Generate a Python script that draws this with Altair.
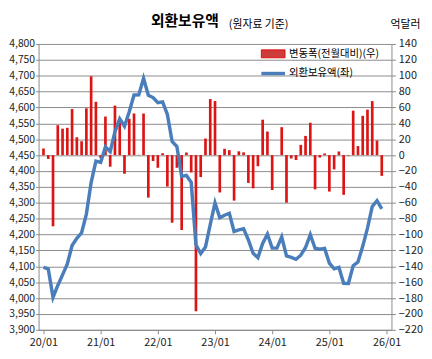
import altair as alt
import pandas as pd

# ---- data (억달러) ----
month_index = list(range(72))  # 2020/01 .. 2025/12
reserves = [
    4096.5, 4091.7, 4002.1, 4039.8, 4073.1, 4107.5, 4165.5, 4188.0, 4205.5, 4264.5, 4363.8, 4431.0,
    4427.3, 4475.9, 4461.3, 4523.7, 4564.5, 4541.0, 4586.8, 4639.3, 4639.7, 4692.1, 4638.6, 4631.2,
    4615.3, 4617.7, 4578.1, 4493.0, 4477.1, 4382.8, 4386.1, 4364.3, 4167.7, 4140.1, 4161.0, 4231.6,
    4299.7, 4252.7, 4260.7, 4267.0, 4209.7, 4214.5, 4218.0, 4183.0, 4141.2, 4127.2, 4171.8, 4201.5,
    4157.6, 4157.3, 4192.5, 4132.6, 4128.3, 4122.1, 4135.0, 4159.2, 4200.0, 4156.9, 4153.9, 4156.0,
    4110.1, 4092.1, 4096.7, 4046.7, 4046.0, 4102.0, 4113.4, 4162.9, 4220.2, 4288.2, 4306.6, 4280.5,
]
changes = [
    8.3, -4.8, -89.6, 37.7, 33.3, 34.4, 58.0, 22.5, 17.5, 59.0, 99.3, 67.2,
    -3.7, 48.6, -14.6, 62.4, 40.8, -23.5, 45.8, 52.5, 0.4, 52.4, -53.5, -7.4,
    -15.9, 2.4, -39.6, -85.1, -15.9, -94.3, 3.3, -21.8, -196.6, -27.6, 20.9, 70.6,
    68.1, -47.0, 8.0, 6.3, -57.3, 4.8, 3.5, -35.0, -41.8, -14.0, 44.6, 29.7,
    -43.9, -0.3, 35.2, -59.9, -4.3, -6.2, 12.9, 24.2, 40.8, -43.1, -3.0, 2.1,
    -45.9, -18.0, 4.6, -50.0, -0.7, 56.0, 11.4, 49.5, 57.3, 68.0, 18.4, -26.1,
]
x_tick_labels = ["20/01", "21/01", "22/01", "23/01", "24/01", "25/01", "26/01"]
x_tick_pos = [0, 12, 24, 36, 48, 60, 72]
left_ticks = list(range(3900, 4801, 50))
right_ticks = list(range(-220, 141, 20))
title_main = "외환보유액"
title_sub = "(원자료 기준)"
unit_label = "억달러"
legend_labels = ["변동폭(전월대비)(우)", "외환보유액(좌)"]

FONT = "Noto Sans CJK KR"
RED = "#dc1414"
BLUE = "#4a7ebb"
GRID = "#8a8a8a"

df = pd.DataFrame({"i": month_index, "res": reserves, "chg": changes})

label_expr = "[" + ",".join(f"'{t}'" for t in x_tick_labels) + "][round(datum.value/12)]"

x_enc = alt.X(
    "i:Q",
    scale=alt.Scale(domain=[0, 72], nice=False, zero=False),
    axis=alt.Axis(values=x_tick_pos, labelExpr=label_expr, title=None, grid=False,
                  tickSize=4, tickColor=GRID, domainColor=GRID, labelPadding=3,
                  labelFontSize=11, labelFont=FONT, labelColor="#222222"),
)

bars = alt.Chart(df).mark_bar(size=2.7, color=RED).encode(
    x=x_enc,
    y=alt.Y("chg:Q", scale=alt.Scale(domain=[-220, 140], nice=False, zero=False),
            axis=alt.Axis(orient="right", values=right_ticks, format=".0f", title=None, grid=False,
                          tickSize=4, tickColor=GRID, domainColor=GRID, labelPadding=3,
                          labelFontSize=11, labelFont=FONT, labelColor="#222222")),
    y2=alt.datum(0),
)

line = alt.Chart(df).mark_line(color=BLUE, strokeWidth=3.5).encode(
    x=x_enc,
    y=alt.Y("res:Q", scale=alt.Scale(domain=[3900, 4800], nice=False, zero=False),
            axis=alt.Axis(orient="left", values=left_ticks, format=",.0f", title=None, grid=True,
                          gridColor=GRID, gridWidth=1, tickSize=3, tickColor=GRID,
                          domainColor=GRID, labelPadding=1, labelFontSize=10.5,
                          labelFont=FONT, labelColor="#222222")),
)


def txt(text, x, y, size, weight="normal"):
    return alt.Chart(pd.DataFrame({"t": [text]})).mark_text(
        align="left", baseline="middle", fontSize=size, fontWeight=weight, font=FONT,
        color="#000000").encode(x=alt.value(x), y=alt.value(y), text="t:N")


one = pd.DataFrame({"a": [0]})
leg_rect = alt.Chart(one).mark_rect(fill="#cd3b3b", stroke="#e01010", strokeWidth=1).encode(
    x=alt.value(226), x2=alt.value(250), y=alt.value(6), y2=alt.value(14))
leg_line = alt.Chart(one).mark_rule(color=BLUE, strokeWidth=3.5).encode(
    x=alt.value(226), x2=alt.value(250), y=alt.value(30))

chart = alt.layer(
    bars, line,
    txt(title_main, 114, -23.5, 15, "bold"),
    txt(title_sub, 193, -19.5, 11),
    txt(unit_label, 357, -19.5, 11),
    leg_rect, leg_line,
    txt(legend_labels[0], 254, 10, 10.5),
    txt(legend_labels[1], 254, 30, 10.5),
).resolve_scale(y="independent").properties(
    width=358, height=290,
    autosize=alt.AutoSizeParams(type="none"),
    padding={"left": 31, "top": 34, "right": 33, "bottom": 19},
).configure_view(stroke=None)

chart.save("out.html", embed_options={"renderer": "svg", "actions": False})
